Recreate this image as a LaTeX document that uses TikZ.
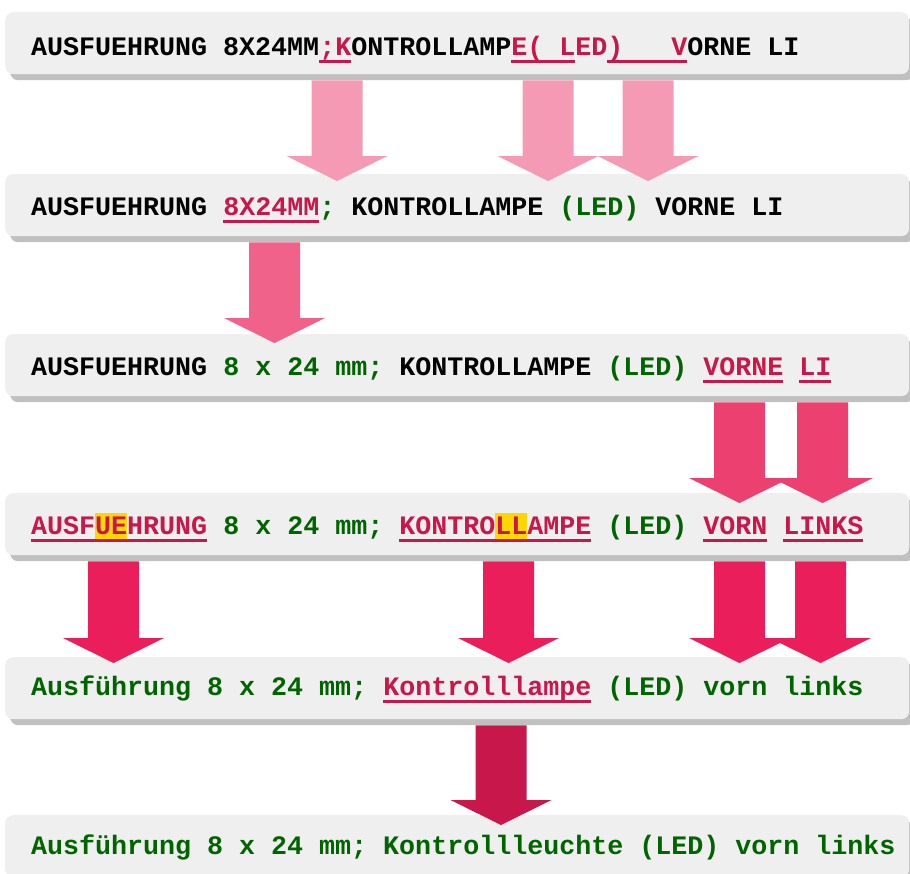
\documentclass[tikz,border=0pt]{standalone}
\usepackage{fontspec}
\newfontfamily\codefont{Liberation Mono}
\usetikzlibrary{calc}

\definecolor{boxfill}{HTML}{EFEFEF}
\definecolor{boxshade}{HTML}{C0C0C0}
\definecolor{delred}{HTML}{C8174A}
\definecolor{okgreen}{HTML}{006400}
\definecolor{hlyellow}{HTML}{FFD700}
\definecolor{stepA}{HTML}{F49AB4}
\definecolor{stepB}{HTML}{F0628A}
\definecolor{stepC}{HTML}{EC4070}
\definecolor{stepD}{HTML}{E91E5A}
\definecolor{stepE}{HTML}{C8174A}

% inline markup for the corrected strings
\newcommand\rd[1]{\textcolor{delred}{#1}}
\newcommand\gr[1]{\textcolor{okgreen}{#1}}
\newcommand\redul[1]{{\setbox0\hbox{#1}\rlap{\color{delred}\rule[-8pt]{\wd0}{2.6pt}}\box0}}
\newcommand\hlmark[1]{{\setlength\fboxsep{0pt}\colorbox{hlyellow}{\rule[-5pt]{0pt}{26pt}#1}}}

% wide block arrow from the shadow edge of one row into the next row
% #1 colour, #2 x position (pt), #3 source row, #4 target row, #5 overlap into target (pt)
\newcommand\bigarrow[5]{%
  \fill[#1] let \p1=(#3.south), \p2=(#4.north) in
    (#2pt-25.5pt, \y1-6pt) -- (#2pt+25.5pt, \y1-6pt)
    -- (#2pt+25.5pt, \y2-#5pt+25pt) -- (#2pt+50.5pt, \y2-#5pt+25pt)
    -- (#2pt, \y2-#5pt)
    -- (#2pt-50.5pt, \y2-#5pt+25pt) -- (#2pt-25.5pt, \y2-#5pt+25pt) -- cycle;}

\tikzset{
  rowbox/.style={anchor=north west, minimum width=904pt, minimum height=62pt,
    inner sep=0pt, rounded corners=8pt, fill=boxfill,
    preaction={fill=boxshade, transform canvas={xshift=5pt, yshift=-6pt}}},
  rowtext/.style={anchor=base west, inner sep=0pt,
    font=\codefont\bfseries\fontsize{26.67pt}{32pt}\selectfont\frenchspacing},
}

\begin{document}
\begin{tikzpicture}[x=1pt, y=1pt]
\useasboundingbox (0,0) rectangle (910,-873);
\clip (0,0) rectangle (910,-873);

% rows
\node[rowbox] (r1) at (5,-12)  {};
\node[rowbox] (r2) at (5,-174) {};
\node[rowbox] (r3) at (5,-334) {};
\node[rowbox] (r4) at (5,-493) {};
\node[rowbox] (r5) at (5,-657) {};
\node[rowbox] (r6) at (5,-815) {};

% row texts
\node[rowtext] (t1) at (31,-55)
  {AUSFUEHRUNG 8X24MM\redul{\rd{;K}}ONTROLLAMP\redul{\rd{E(\ L}}\rd{ED}\redul{\rd{)\ \ \ V}}ORNE LI};
\node[rowtext] (t2) at (31,-215)
  {AUSFUEHRUNG \redul{\rd{8X24MM}}\gr{;} KONTROLLAMPE \gr{(LED)} VORNE LI};
\node[rowtext] (t3) at (31,-375)
  {AUSFUEHRUNG \gr{8 x 24 mm;} KONTROLLAMPE \gr{(LED)} \redul{\rd{VORNE}} \redul{\rd{LI}}};
\node[rowtext] (t4) at (31,-534)
  {\redul{\rd{AUSF\hlmark{UE}HRUNG}} \gr{8 x 24 mm;} \redul{\rd{KONTRO\hlmark{LL}AMPE}} \gr{(LED)} \redul{\rd{VORN}} \redul{\rd{LINKS}}};
\node[rowtext] (t5) at (31,-695)
  {\gr{Ausführung 8 x 24 mm;} \redul{\rd{Kontrolllampe}} \gr{(LED) vorn links}};
\node[rowtext] (t6) at (31,-854)
  {\gr{Ausführung 8 x 24 mm; Kontrollleuchte (LED) vorn links}};

% step arrows
\bigarrow{stepA}{337}{r1}{r2}{7}
\bigarrow{stepA}{548}{r1}{r2}{7}
\bigarrow{stepA}{648}{r1}{r2}{7}
\bigarrow{stepB}{274.5}{r2}{r3}{9}
\bigarrow{stepC}{739.5}{r3}{r4}{10}
\bigarrow{stepC}{822.5}{r3}{r4}{10}
\bigarrow{stepD}{113.5}{r4}{r5}{6}
\bigarrow{stepD}{508.5}{r4}{r5}{6}
\bigarrow{stepD}{739.5}{r4}{r5}{6}
\bigarrow{stepD}{820.5}{r4}{r5}{6}
\bigarrow{stepE}{501}{r5}{r6}{10}
\end{tikzpicture}
\end{document}
